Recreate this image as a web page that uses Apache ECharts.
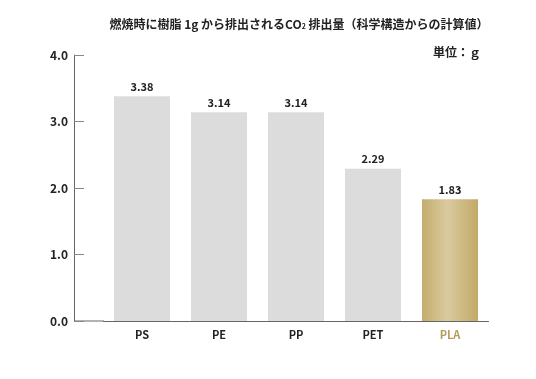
<!DOCTYPE html>
<html><head><meta charset="utf-8">
<script src="https://cdn.jsdelivr.net/npm/echarts@6/dist/echarts.min.js"></script>
<style>html,body{margin:0;padding:0;background:#fff}#c{width:536px;height:379px}</style>
</head><body><div id="c"></div>
<script>
const categories = ['PS', 'PE', 'PP', 'PET', 'PLA'];
const values = [3.38, 3.14, 3.14, 2.29, 1.83];
const yTicks = [0, 1, 2, 3, 4];
const titleMain = '燃焼時に樹脂 1g から排出されるCO';
const titleSub = '2';
const titleTail = ' 排出量（科学構造からの計算値）';
const unitText = '単位：ｇ';

const FONT = '"Noto Sans CJK JP", "Noto Sans", sans-serif';
const gold = {type:'linear', x:0, y:0, x2:1, y2:0, colorStops:[
  {offset:0, color:'#C4AC6E'}, {offset:0.45, color:'#DACA9E'}, {offset:1, color:'#C2A968'}]};

const chart = echarts.init(document.getElementById('c'));
chart.setOption({
  animation:false,
  title:{
    text:'{m|'+titleMain+'}{s|'+titleSub+'}{m|'+titleTail+'}',
    left:294, top:13, textAlign:'center',
    textStyle:{rich:{
      m:{fontFamily:FONT, fontWeight:'bold', fontSize:12, color:'#222'},
      s:{fontFamily:FONT, fontWeight:'bold', fontSize:7, color:'#222', verticalAlign:'bottom', padding:[4,0,0,0]}
    }}
  },
  graphic:[
    {type:'text', left:433, top:46, style:{text:unitText, font:'bold 12px '+FONT, fill:'#222'}},
    {type:'line', shape:{x1:74, y1:321, x2:104, y2:321}, style:{stroke:'#666', lineWidth:1}}
  ],
  grid:{left:103.5, right:47.5, top:55, bottom:58},
  xAxis:{
    type:'category', data:categories,
    axisLine:{lineStyle:{color:'#666'}},
    axisTick:{inside:true, length:4, lineStyle:{color:'#666'}},
    axisLabel:{margin:8, fontFamily:FONT, fontWeight:'bold', fontSize:11,
      color:(v)=> v==='PLA' ? '#B59C5E' : '#222'}
  },
  yAxis:{
    type:'value', min:yTicks[0], max:yTicks[yTicks.length-1], interval:1, offset:29.5,
    splitLine:{show:false},
    axisLine:{show:true, lineStyle:{color:'#666'}},
    axisTick:{show:true, inside:true, length:10, lineStyle:{color:'#888'}},
    axisLabel:{margin:6, fontFamily:FONT, fontWeight:'bold', fontSize:12, color:'#222',
      formatter:(v)=>v.toFixed(1)}
  },
  series:[{
    type:'bar', barWidth:56,
    data: values.map((v,i)=>({value:v, itemStyle:{color: categories[i]==='PLA' ? gold : '#DCDCDC'}})),
    label:{show:true, position:'top', distance:4, fontFamily:FONT, fontWeight:'bold', fontSize:11, color:'#222',
      formatter:(p)=>p.value.toFixed(2)}
  }]
});
</script></body></html>
